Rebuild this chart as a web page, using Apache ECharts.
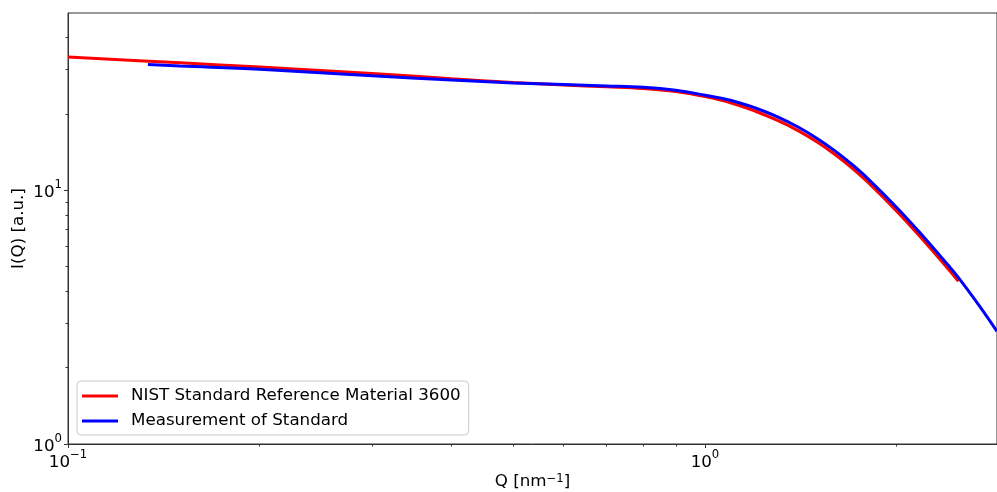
<!DOCTYPE html>
<html>
<head>
<meta charset="utf-8">
<script src="https://cdn.jsdelivr.net/npm/echarts@6/dist/echarts.min.js"></script>
<style>
  html, body { margin: 0; padding: 0; background: #fff; }
  #chart { width: 997px; height: 492px; }
</style>
</head>
<body>
<div id="chart"></div>
<script>
// NIST SRM 3600 reference curve
const qRef = [0.1, 0.15, 0.2, 0.3, 0.4, 0.5, 0.6, 0.7, 0.8, 0.9, 1.0, 1.1, 1.2, 1.3, 1.4, 1.5, 1.6, 1.7, 1.8, 2.0, 2.2, 2.4, 2.5];
const iRef = [33.5, 31.8, 30.6, 28.9, 27.5, 26.6, 26.0, 25.6, 25.2, 24.5, 23.4, 22.1, 20.5, 18.86, 17.19, 15.5, 13.84, 12.27, 10.79, 8.28, 6.37, 4.95, 4.38];

// measured standard
const qMeas = [0.1335, 0.15, 0.2, 0.3, 0.4, 0.5, 0.6, 0.7, 0.8, 0.9, 1.0, 1.1, 1.2, 1.3, 1.4, 1.5, 1.6, 1.7, 1.8, 2.0, 2.2, 2.4, 2.5, 2.7, 2.874];
const iMeas = [31.3, 30.9, 30.0, 28.3, 27.2, 26.5, 26.1, 25.8, 25.5, 24.8, 23.7, 22.59, 21.11, 19.49, 17.77, 16.02, 14.31, 12.67, 11.15, 8.56, 6.59, 5.12, 4.53, 3.49, 2.78];

const xRange = [0.1, 2.874];
const yRange = [1, 50];
const xMinorTicks = [0.2, 0.3, 0.4, 0.5, 0.6, 0.7, 0.8, 0.9, 2];
const yMinorTicks = [2, 3, 4, 5, 6, 7, 8, 9, 20, 30, 40];

const axisColor = '#333';
const font = 'DejaVu Sans';
const fs = 16.7;

const chart = echarts.init(document.getElementById('chart'));

const pow10 = (v) => {
  const e = Math.round(Math.log10(v));
  return '{b|10}{s|' + String(e).replace('-', '\u2212') + '}';
};

const richLabel = {
  b: { fontSize: fs, fontFamily: font, color: '#000', lineHeight: 22, verticalAlign: 'bottom' },
  s: { fontSize: 11.7, fontFamily: font, color: '#000', lineHeight: 13, verticalAlign: 'top' }
};

const minorAxis = (range, ticks, pos) => ({
  type: 'value',
  gridIndex: 0,
  position: pos,
  min: Math.log10(range[0]),
  max: Math.log10(range[1]),
  axisLine: { show: false, onZero: false },
  splitLine: { show: false },
  axisLabel: { show: false },
  axisTick: {
    show: true,
    length: 2.5,
    lineStyle: { color: axisColor },
    customValues: ticks.map(v => Math.log10(v))
  }
});

chart.setOption({
  animation: false,
  backgroundColor: '#fff',
  grid: {
    left: 68, right: 0, top: 13, bottom: 48,
    outerBoundsMode: 'none',
    containLabel: false,
    show: true, borderColor: axisColor, borderWidth: 1, backgroundColor: 'transparent'
  },
  legend: {
    orient: 'vertical',
    left: 77,
    top: 381,
    data: ['NIST Standard Reference Material 3600', 'Measurement of Standard'],
    icon: 'rect',
    itemWidth: 36,
    itemHeight: 3,
    itemGap: 5,
    padding: [5, 8, 4, 5],
    backgroundColor: 'rgba(255,255,255,0.8)',
    borderColor: '#ccc',
    borderWidth: 1,
    borderRadius: 4,
    textStyle: { fontSize: fs, fontFamily: font, color: '#000', lineHeight: 20, padding: [0, 0, 0, 8] }
  },
  xAxis: [{
    type: 'log',
    logBase: 10,
    position: 'bottom',
    min: xRange[0],
    max: xRange[1],
    name: 'Q [nm{s|\u22121}]',
    nameLocation: 'middle',
    nameGap: 29,
    nameMoveOverlap: false,
    nameTextStyle: {
      fontSize: fs, fontFamily: font, color: '#000',
      rich: {
        s: { fontSize: 11.7, fontFamily: font, color: '#000', verticalAlign: 'top', lineHeight: 13 }
      }
    },
    axisLine: { show: true, onZero: false, lineStyle: { color: axisColor } },
    axisTick: { show: true, length: 4, lineStyle: { color: axisColor } },
    splitLine: { show: false },
    axisLabel: {
      margin: 5,
      showMaxLabel: false,
      formatter: pow10,
      rich: richLabel
    }
  }, minorAxis(xRange, xMinorTicks, 'bottom')],
  yAxis: [{
    type: 'log',
    logBase: 10,
    position: 'left',
    min: yRange[0],
    max: yRange[1],
    name: 'I(Q) [a.u.]',
    nameLocation: 'middle',
    nameGap: 41,
    nameMoveOverlap: false,
    nameTextStyle: { fontSize: fs, fontFamily: font, color: '#000' },
    axisLine: { show: true, onZero: false, lineStyle: { color: axisColor } },
    axisTick: { show: true, length: 4, lineStyle: { color: axisColor } },
    splitLine: { show: false },
    axisLabel: {
      margin: 6,
      showMaxLabel: false,
      formatter: pow10,
      rich: richLabel
    }
  }, minorAxis(yRange, yMinorTicks, 'left')],
  series: [{
    name: 'NIST Standard Reference Material 3600',
    type: 'line',
    xAxisIndex: 0,
    yAxisIndex: 0,
    data: qRef.map((q, i) => [q, iRef[i]]),
    showSymbol: false,
    symbol: 'none',
    smooth: 0.4,
    color: '#ff0000',
    lineStyle: { color: '#ff0000', width: 3 }
  }, {
    name: 'Measurement of Standard',
    type: 'line',
    xAxisIndex: 0,
    yAxisIndex: 0,
    data: qMeas.map((q, i) => [q, iMeas[i]]),
    showSymbol: false,
    symbol: 'none',
    smooth: 0.4,
    color: '#0000ff',
    lineStyle: { color: '#0000ff', width: 3 }
  }]
});
</script>
</body>
</html>
